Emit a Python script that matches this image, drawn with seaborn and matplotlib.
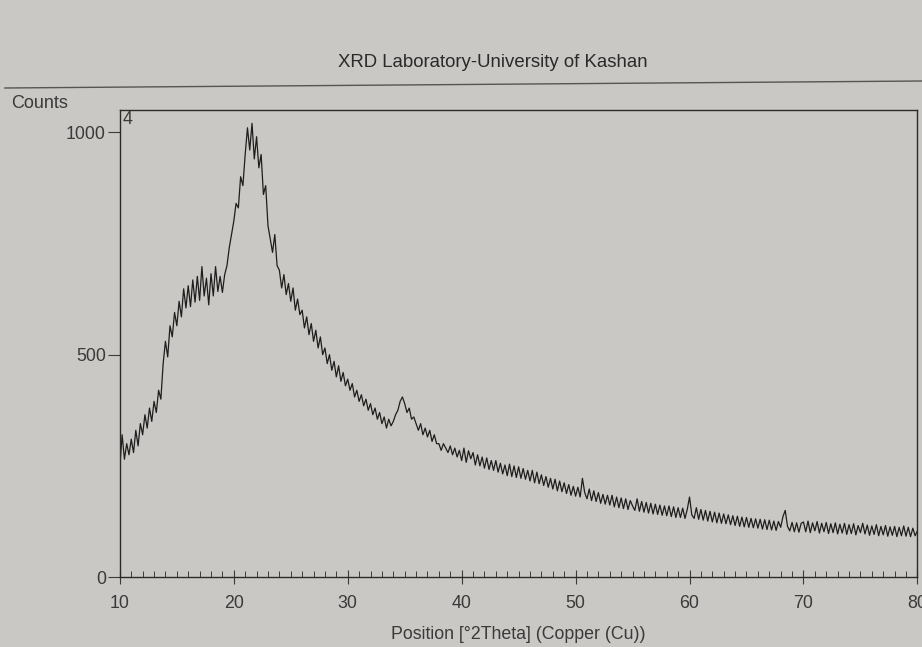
import numpy as np
import pandas as pd
import matplotlib
matplotlib.use("Agg")
import matplotlib.pyplot as plt
from matplotlib.lines import Line2D
from matplotlib.ticker import MultipleLocator
import seaborn as sns

# ---- data ----
start_2theta = 10.0
step_2theta = 0.2
counts = [
    250, 320, 265, 300, 275,   # 10
    310, 280, 330, 295, 345,   # 11
    320, 365, 335, 380, 350,   # 12
    395, 370, 420, 400, 480,   # 13
    530, 495, 565, 540, 595,   # 14
    565, 620, 585, 648, 605,   # 15
    655, 608, 668, 618, 676,   # 16
    622, 698, 632, 672, 612,   # 17
    682, 632, 698, 642, 676,   # 18
    640, 680, 700, 740, 770,   # 19
    800, 840, 830, 900, 880,   # 20
    950, 1010, 960, 1020, 940, # 21
    990, 920, 950, 860, 880,   # 22
    790, 760, 730, 770, 700,   # 23
    690, 650, 680, 635, 660,   # 24
    620, 650, 600, 625, 590,   # 25
    600, 560, 585, 545, 570,   # 26
    530, 555, 515, 540, 500,   # 27
    515, 480, 500, 465, 485,   # 28
    450, 475, 440, 460, 430,   # 29
    445, 420, 435, 405, 420,   # 30
    395, 410, 385, 400, 375,   # 31
    390, 365, 380, 355, 370,   # 32
    345, 360, 335, 355, 340,   # 33
    350, 365, 375, 395, 405,   # 34
    390, 370, 380, 355, 360,   # 35
    345, 330, 345, 320, 335,   # 36
    315, 330, 305, 320, 300,   # 37
    300, 285, 300, 290, 280,   # 38
    295, 275, 290, 270, 285,   # 39
    262, 290, 258, 284, 266,   # 40
    280, 252, 275, 250, 270,   # 41
    245, 268, 242, 262, 240,   # 42
    262, 236, 256, 232, 252,   # 43
    228, 254, 226, 250, 224,   # 44
    248, 222, 244, 220, 240,   # 45
    216, 240, 212, 236, 210,   # 46
    230, 206, 226, 202, 222,   # 47
    198, 220, 194, 216, 192,   # 48
    212, 188, 208, 184, 204,   # 49
    182, 202, 180, 222, 190,   # 50
    176, 198, 172, 194, 170,   # 51
    190, 166, 186, 164, 184,   # 52
    162, 184, 158, 180, 156,   # 53
    178, 154, 176, 152, 172,   # 54
    160, 150, 176, 148, 170,   # 55
    146, 168, 144, 166, 142,   # 56
    164, 141, 162, 139, 160,   # 57
    138, 160, 136, 158, 134,   # 58
    156, 134, 155, 132, 152,   # 59
    180, 140, 132, 156, 130,   # 60
    152, 128, 150, 126, 148,   # 61
    124, 146, 122, 144, 121,   # 62
    142, 120, 140, 118, 138,   # 63
    116, 137, 114, 135, 113,   # 64
    134, 112, 132, 111, 131,   # 65
    110, 130, 108, 129, 107,   # 66
    128, 106, 126, 105, 125,   # 67
    112, 136, 150, 114, 104,   # 68
    123, 102, 122, 101, 121,   # 69
    124, 102, 126, 100, 122,   # 70
    104, 125, 99, 121, 102,    # 71
    123, 98, 120, 100, 122,    # 72
    97, 119, 99, 121, 96,      # 73
    118, 98, 120, 95, 116,     # 74
    100, 121, 97, 117, 94,     # 75
    115, 96, 118, 93, 114,     # 76
    95, 116, 92, 113, 94,      # 77
    114, 91, 112, 93, 115,     # 78
    92, 112, 91, 110, 93,      # 79
    104,                       # 80
]
two_theta = start_2theta + step_2theta * np.arange(len(counts))
y_ticks = [0, 500, 1000]
x_ticks = [10, 20, 30, 40, 50, 60, 70, 80]

title_text = "XRD Laboratory-University of Kashan"
y_label = "Counts"
x_label = "Position [°2Theta] (Copper (Cu))"
panel_label = "4"

df = pd.DataFrame({"two_theta": two_theta, "counts": counts})

# ---- style ----
sns.set_theme(style="ticks")
plt.rcParams["font.family"] = ["Liberation Sans", "DejaVu Sans"]
paper = "#cac8c5"
ink = "#3a3a3a"
fs = 12.8

fig = plt.figure(figsize=(9.22, 6.47), dpi=100, facecolor=paper)
ax = fig.add_axes([0.130, 0.108, 0.865, 0.722])
ax.set_facecolor(paper)

sns.lineplot(data=df, x="two_theta", y="counts", ax=ax, color="#1e1e1e",
             linewidth=0.9, estimator=None)

ax.set_xlim(10, 80)
ax.set_ylim(0, 1050)
ax.set_xticks(x_ticks)
ax.set_yticks(y_ticks)
ax.xaxis.set_minor_locator(MultipleLocator(1))
ax.tick_params(axis="x", which="major", direction="inout", length=10, width=0.8,
               colors=ink, labelsize=fs, pad=8)
ax.tick_params(axis="x", which="minor", direction="in", length=4, width=0.7, color=ink)
ax.tick_params(axis="y", which="major", direction="out", length=9, width=0.8,
               colors=ink, labelsize=fs, pad=1)
for s in ax.spines.values():
    s.set_color("#2a2a2a")
    s.set_linewidth(1.0)

ax.set_xlabel(x_label, fontsize=fs, color=ink, labelpad=10)
ax.set_ylabel("")
ax.text(0.004, 0.997, panel_label, transform=ax.transAxes, ha="left", va="top",
        fontsize=fs, color=ink)

fig.text(0.012, 0.827, y_label, ha="left", va="bottom", fontsize=13, color=ink)
fig.text(0.534, 0.904, title_text, ha="center", va="center", fontsize=13.4, color="#2a2a2a")
fig.add_artist(Line2D([0.005, 1.0], [1 - 88 / 647, 1 - 81 / 647],
                      transform=fig.transFigure, color="#555555", linewidth=1.0))

fig.savefig("out.png", dpi=100, facecolor=paper)
